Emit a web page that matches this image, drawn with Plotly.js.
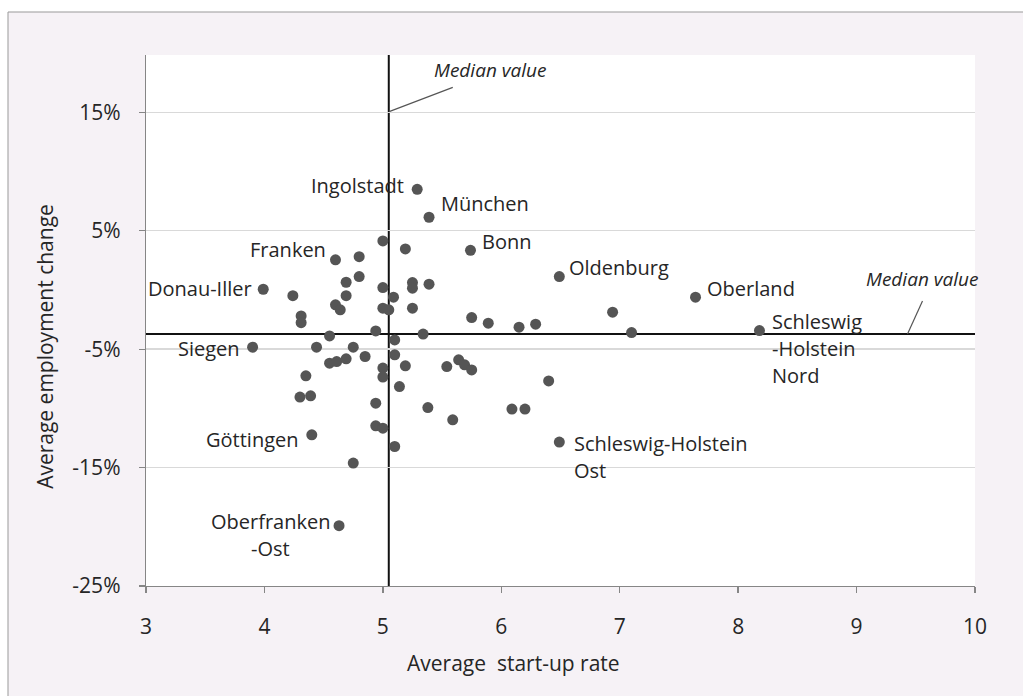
<!DOCTYPE html>
<html>
<head>
<meta charset="utf-8">
<script src="https://cdn.plot.ly/plotly-3.0.1.min.js"></script>
<style>
  html, body { margin: 0; padding: 0; background: #ffffff; }
  #chart { width: 1023px; height: 696px; }
</style>
</head>
<body>
<div id="chart"></div>
<script>
// ---------------- DATA ----------------
const regions = [
  'Ingolstadt','München','','','Bonn','Franken','','Oldenburg','','',
  '','','','','Donau-Iller','','','','Oberland','',
  '','','','','','','','','','',
  '','','','','','Schleswig-Holstein Nord','','Siegen','','',
  '','','','','','','','','','',
  '','','','','','','','','','',
  '','','','','Göttingen','Schleswig-Holstein Ost','','','Oberfranken-Ost'
];
const startupRate = [
  5.29, 5.39, 5.00, 5.19, 5.74, 4.60, 4.80, 6.49, 4.80, 4.69,
  5.00, 5.25, 5.25, 5.39, 3.99, 4.24, 4.69, 5.09, 7.64, 4.60,
  4.64, 5.00, 5.05, 5.25, 4.31, 4.31, 5.75, 5.89, 6.15, 6.29,
  6.94, 4.55, 4.94, 5.34, 7.10, 8.18, 5.10, 3.90, 4.44, 4.75,
  5.10, 4.85, 4.55, 4.61, 4.69, 5.00, 5.00, 5.19, 5.54, 5.64,
  5.69, 5.75, 4.35, 5.14, 6.40, 4.30, 4.39, 4.94, 5.38, 6.09,
  6.20, 5.59, 4.94, 5.00, 4.40, 6.49, 5.10, 4.75, 4.63
];
const employmentChange = [
  8.50, 6.14, 4.14, 3.46, 3.35, 2.54, 2.81, 1.13, 1.13, 0.65,
  0.20, 0.62, 0.15, 0.49, 0.06, -0.48, -0.48, -0.61, -0.61, -1.26,
  -1.68, -1.54, -1.68, -1.54, -2.19, -2.76, -2.33, -2.81, -3.14, -2.89,
  -1.88, -3.88, -3.46, -3.73, -3.60, -3.43, -4.22, -4.83, -4.83, -4.83,
  -5.48, -5.62, -6.18, -6.05, -5.82, -6.60, -7.36, -6.41, -6.47, -5.90,
  -6.32, -6.75, -7.25, -8.16, -7.68, -9.05, -8.94, -9.56, -9.93, -10.06,
  -10.06, -10.97, -11.47, -11.67, -12.23, -12.85, -13.22, -14.62, -19.91
];
const medianStartup = 5.05;
const medianEmployment = -3.73;
const xTicks = [3, 4, 5, 6, 7, 8, 9, 10];
const yTicks = [-25, -15, -5, 5, 15];
const yTickLabels = ['-25%', '-15%', '-5%', '5%', '15%'];
const labelLines = {
  'Ingolstadt': ['Ingolstadt'],
  'München': ['München'],
  'Bonn': ['Bonn'],
  'Franken': ['Franken'],
  'Oldenburg': ['Oldenburg'],
  'Donau-Iller': ['Donau-Iller'],
  'Oberland': ['Oberland'],
  'Schleswig-Holstein Nord': ['Schleswig', '-Holstein', 'Nord'],
  'Siegen': ['Siegen'],
  'Göttingen': ['Göttingen'],
  'Schleswig-Holstein Ost': ['Schleswig-Holstein', 'Ost'],
  'Oberfranken-Ost': ['Oberfranken', '-Ost']
};
const medianText = 'Median value';
const xTitle = 'Average&nbsp; start-up rate';
const yTitle = 'Average employment change';

// ---------------- STYLE / LAYOUT ----------------
const W = 1023, H = 696;
const M = { l: 146, r: 48, t: 55, b: 110 };
const yTop = 19.84;
const FONT = 'Open Sans, Noto Sans, sans-serif';
const textColor = '#262626';
const labelFont = { family: FONT, size: 20, color: textColor };
const lineGap = 27;
// pixel offsets of label (first line centre) from its point
const labelStyle = {
  'Ingolstadt': { anchor: 'right', dx: -11, dy: 4 },
  'München': { anchor: 'left', dx: 10, dy: 14 },
  'Bonn': { anchor: 'left', dx: 10, dy: 9 },
  'Franken': { anchor: 'right', dx: -7, dy: 10 },
  'Oldenburg': { anchor: 'left', dx: 8, dy: 9 },
  'Donau-Iller': { anchor: 'right', dx: -9, dy: 1 },
  'Oberland': { anchor: 'left', dx: 9, dy: 9 },
  'Schleswig-Holstein Nord': { anchor: 'left', dx: 11, dy: 9 },
  'Siegen': { anchor: 'right', dx: -11, dy: -1 },
  'Göttingen': { anchor: 'right', dx: -11, dy: -5 },
  'Schleswig-Holstein Ost': { anchor: 'left', dx: 13, dy: -1 },
  'Oberfranken-Ost': { anchor: 'center', dx: -69, dy: 4 }
};

const annotations = [];
regions.forEach((name, i) => {
  if (!name) return;
  const st = labelStyle[name];
  labelLines[name].forEach((line, j) => {
    annotations.push({
      x: startupRate[i], y: employmentChange[i], xref: 'x', yref: 'y',
      text: line, showarrow: false, xanchor: st.anchor, yanchor: 'middle',
      xshift: st.dx, yshift: st.dy - j * lineGap, font: labelFont
    });
  });
});
const medFont = { family: FONT, size: 19, color: textColor, style: 'italic' };
annotations.push({
  x: medianStartup, y: 15, xref: 'x', yref: 'y', text: '<i>' + medianText + '</i>',
  showarrow: false, xanchor: 'center', yanchor: 'middle', xshift: 101, yshift: 42, font: medFont
});
const medLeaderX = 9.43;
annotations.push({
  x: medLeaderX, y: medianEmployment, xref: 'x', yref: 'y', text: '<i>' + medianText + '</i>',
  showarrow: false, xanchor: 'center', yanchor: 'middle', xshift: 14, yshift: 55, font: medFont
});
// axis titles
const titleFont = { family: FONT, size: 21, color: textColor };
annotations.push({
  xref: 'paper', yref: 'paper', x: 0.4439, y: -0.1444, text: xTitle,
  showarrow: false, xanchor: 'center', yanchor: 'middle', font: titleFont
});
annotations.push({
  xref: 'paper', yref: 'paper', x: -0.1218, y: 0.4504, text: yTitle, textangle: -90,
  showarrow: false, xanchor: 'center', yanchor: 'middle', font: titleFont
});

const PW = W - M.l - M.r, PH = H - M.t - M.b;
const shapes = [
  { type: 'rect', xref: 'paper', yref: 'paper', layer: 'below',
    x0: (8 - M.l) / PW, x1: (W + 20 - M.l) / PW,
    y0: -(M.b + 20) / PH, y1: (PH + M.t - 12) / PH,
    fillcolor: '#f6f2f6', line: { color: '#999999', width: 1 } },
  { type: 'rect', xref: 'paper', yref: 'paper', layer: 'below',
    x0: 0, x1: 1, y0: 0, y1: 1, fillcolor: '#ffffff', line: { width: 0 } },
  { type: 'line', xref: 'x', yref: 'y', layer: 'below',
    x0: medianStartup, x1: medianStartup, y0: -25, y1: yTop,
    line: { color: '#111111', width: 2 } },
  { type: 'line', xref: 'x', yref: 'y', layer: 'below',
    x0: 3, x1: 10, y0: medianEmployment, y1: medianEmployment,
    line: { color: '#111111', width: 2 } },
  { type: 'line', xref: 'x', yref: 'y', layer: 'below',
    xsizemode: 'pixel', ysizemode: 'pixel', xanchor: medianStartup, yanchor: 15,
    x0: 1, x1: 64, y0: 1, y1: 25, line: { color: '#555555', width: 1.2 } },
  { type: 'line', xref: 'x', yref: 'y', layer: 'below',
    xsizemode: 'pixel', ysizemode: 'pixel', xanchor: medLeaderX, yanchor: medianEmployment,
    x0: 0, x1: 15, y0: 0, y1: 33, line: { color: '#555555', width: 1.2 } }
];

const trace = {
  type: 'scatter', mode: 'markers',
  x: startupRate, y: employmentChange, text: regions,
  marker: { size: 11, color: '#555555', line: { width: 0 } },
  hoverinfo: 'x+y+text', cliponaxis: false
};

const axisCommon = {
  showline: true, linecolor: '#868686', linewidth: 1.3,
  ticks: 'outside', ticklen: 6, tickcolor: '#868686', tickwidth: 1.3,
  zeroline: false, tickfont: { family: FONT, size: 21, color: textColor }
};

const layout = {
  width: W, height: H, margin: M,
  paper_bgcolor: '#ffffff', plot_bgcolor: 'rgba(0,0,0,0)',
  showlegend: false,
  font: { family: FONT, color: textColor },
  xaxis: Object.assign({}, axisCommon, {
    range: [3, 10], tickmode: 'array', tickvals: xTicks, showgrid: false,
    ticklabelstandoff: 15
  }),
  yaxis: Object.assign({}, axisCommon, {
    range: [-25, yTop], tickmode: 'array', tickvals: yTicks, ticktext: yTickLabels,
    showgrid: true, gridcolor: '#d9d9d9', gridwidth: 1.5, ticklabelstandoff: 14
  }),
  annotations: annotations,
  shapes: shapes
};

Plotly.newPlot('chart', [trace], layout, { displayModeBar: false, staticPlot: true });
</script>
</body>
</html>
